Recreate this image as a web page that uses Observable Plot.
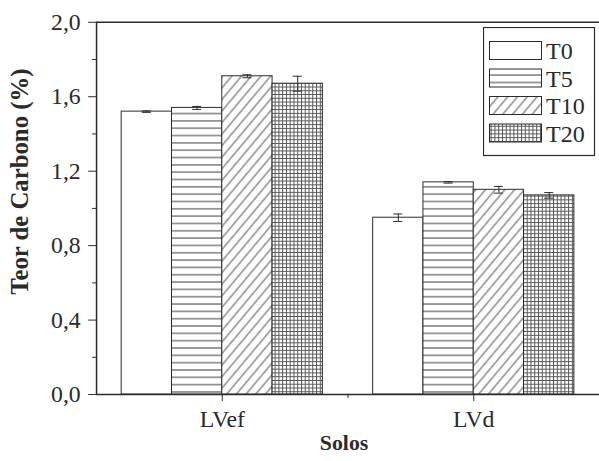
<!DOCTYPE html>
<html>
<head>
<meta charset="utf-8">
<script src="https://cdn.jsdelivr.net/npm/d3@7"></script>
<script src="https://cdn.jsdelivr.net/npm/@observablehq/plot@0.6"></script>
<style>
  html, body { margin: 0; padding: 0; background: #fff; }
  #wrap { position: relative; width: 599px; height: 461px; overflow: hidden; }
  #legend { position: absolute; left: 483px; top: 27px; }
  svg, svg text { font-family: 'Liberation Serif', 'Times New Roman', serif; }
</style>
</head>
<body>
<div id="wrap"><div id="chart"></div><div id="legend"></div></div>
<script>
// ---- data ----
const soils = ["LVef", "LVd"];
const treatments = ["T0", "T5", "T10", "T20"];
const valuesLVef = [1.52, 1.54, 1.71, 1.67];
const errorsLVef = [0.004, 0.008, 0.008, 0.04];
const valuesLVd = [0.95, 1.14, 1.10, 1.07];
const errorsLVd = [0.02, 0.004, 0.018, 0.015];
const yTicks = [0, 0.4, 0.8, 1.2, 1.6, 2.0];
const yMinorTicks = [0.2, 0.6, 1.0, 1.4, 1.8];
const yLabel = "Teor de Carbono (%)";
const xLabel = "Solos";

const patterns = {T0: "#ffffff", T5: "url(#pT5)", T10: "url(#pT10)", T20: "url(#pT20)"};
const barWidth = 0.2;

const seriesVals = [valuesLVef, valuesLVd];
const seriesErr = [errorsLVef, errorsLVd];
const table = [];
soils.forEach((s, i) => {
  treatments.forEach((t, j) => {
    const c = i + 1 + (j - 1.5) * barWidth;
    table.push({soil: s, t, value: seriesVals[i][j], err: seriesErr[i][j],
      xc: c, x1: c - barWidth / 2, x2: c + barWidth / 2, fill: patterns[t]});
  });
});
const fmt = d => d.toFixed(1).replace(".", ",");
const ink = "#2a2a2a";
const serif = "'Liberation Serif', 'Times New Roman', serif";

const chart = Plot.plot({
  width: 605, height: 461,
  marginLeft: 97, marginRight: 0, marginTop: 22, marginBottom: 63,
  x: {domain: [0.5, 2.5], axis: null},
  y: {domain: [0, 2], axis: null},
  color: {type: "identity"},
  style: {fontFamily: serif, background: "#fff", color: ink},
  marks: [
    Plot.rectY(table, {x1: "x1", x2: "x2", y: "value", fill: "fill", stroke: ink, strokeWidth: 1}),
    Plot.ruleX(table, {x: "xc", y1: d => d.value - d.err, y2: d => d.value + d.err, stroke: ink}),
    Plot.ruleY(table, {x1: d => d.xc - 0.018, x2: d => d.xc + 0.018, y: d => d.value + d.err, stroke: ink}),
    Plot.ruleY(table, {x1: d => d.xc - 0.018, x2: d => d.xc + 0.018, y: d => d.value - d.err, stroke: ink}),
    Plot.ruleY([0, 2], {stroke: ink, strokeWidth: 1.5}),
    Plot.ruleX([0.5], {stroke: ink, strokeWidth: 1.5}),
    Plot.axisY(yTicks, {tickSize: 8, tickFormat: fmt, fontSize: 24, tickPadding: 8, label: null, stroke: ink, fill: ink}),
    Plot.axisY(yMinorTicks, {tickSize: 4, tickFormat: () => "", label: null, stroke: ink}),
    Plot.axisX([1, 2], {tickSize: 7, tickFormat: d => soils[d - 1], fontSize: 24, tickPadding: 9, label: null, stroke: ink, fill: ink}),
    Plot.axisX([1.5], {tickSize: 4, tickFormat: () => "", label: null, stroke: ink}),
    Plot.text([yLabel], {frameAnchor: "left", rotate: -90, textAnchor: "middle", lineAnchor: "middle",
      dx: -77, dy: -27, fontSize: 25, fontWeight: "bold", fill: ink}),
    Plot.text([xLabel], {frameAnchor: "bottom", textAnchor: "middle", lineAnchor: "middle",
      dy: 49, dx: -4, fontSize: 22, fontWeight: "bold", fill: ink})
  ]
});

// pattern definitions
const defs = d3.select(chart).insert("defs", ":first-child");
const p5 = defs.append("pattern").attr("id", "pT5").attr("patternUnits", "userSpaceOnUse")
  .attr("width", 8).attr("height", 7.4);
p5.append("rect").attr("width", 8).attr("height", 7.4).attr("fill", "#fff");
p5.append("line").attr("x1", 0).attr("x2", 8).attr("y1", 3.7).attr("y2", 3.7).attr("stroke", "#3a3a3a").attr("stroke-width", 1);
const p10 = defs.append("pattern").attr("id", "pT10").attr("patternUnits", "userSpaceOnUse")
  .attr("width", 7.5).attr("height", 10).attr("patternTransform", "rotate(40)");
p10.append("rect").attr("width", 7.5).attr("height", 10).attr("fill", "#fff");
p10.append("line").attr("x1", 3.75).attr("x2", 3.75).attr("y1", 0).attr("y2", 10).attr("stroke", "#3a3a3a").attr("stroke-width", 0.9);
const p20 = defs.append("pattern").attr("id", "pT20").attr("patternUnits", "userSpaceOnUse")
  .attr("width", 3.8).attr("height", 3.8);
p20.append("rect").attr("width", 3.8).attr("height", 3.8).attr("fill", "#fff");
p20.append("path").attr("d", "M0,0.5H3.8M0.5,0V3.8").attr("stroke", "#555").attr("stroke-width", 1).attr("fill", "none");

document.getElementById("chart").appendChild(chart);

// legend
const lg = d3.select("#legend").append("svg").attr("width", 113).attr("height", 130)
  .style("font-family", serif);
lg.append("rect").attr("x", 0.5).attr("y", 0.5).attr("width", 111).attr("height", 128)
  .attr("fill", "#fff").attr("stroke", ink).attr("stroke-width", 1.2);
treatments.forEach((t, i) => {
  const y = 14 + i * 27.5;
  lg.append("rect").attr("x", 6.5).attr("y", y + 0.5).attr("width", 52).attr("height", 18)
    .attr("fill", patterns[t]).attr("stroke", ink);
  lg.append("text").attr("x", 63).attr("y", y + 18).attr("font-size", 24).attr("fill", ink).text(t);
});
</script>
</body>
</html>
